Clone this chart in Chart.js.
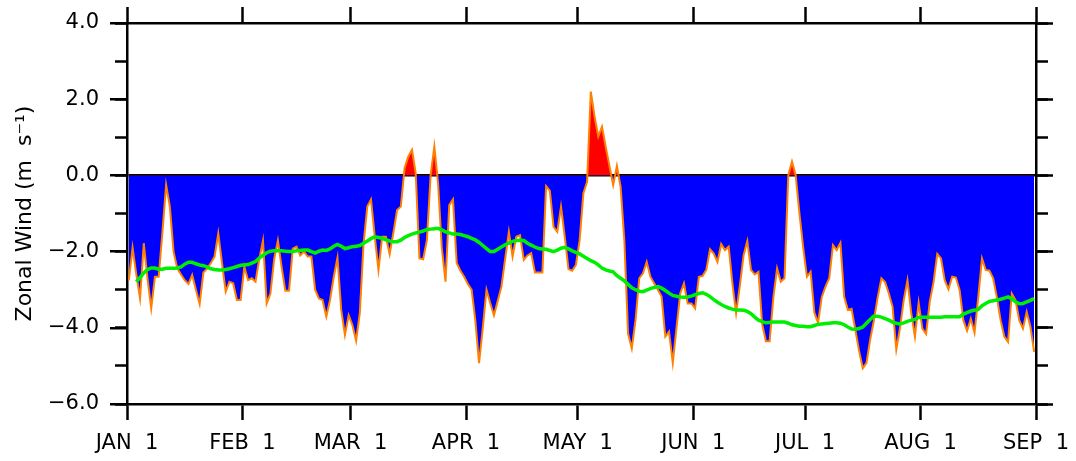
<!DOCTYPE html>
<html>
<head>
<meta charset="utf-8">
<script src="https://cdn.jsdelivr.net/npm/chart.js@4.4.1/dist/chart.umd.min.js"></script>
<style>
  html, body { margin: 0; padding: 0; background: #ffffff; }
  #wrap { width: 1076px; height: 461px; }
</style>
</head>
<body>
<div id="wrap"><canvas id="c" width="1076" height="461"></canvas></div>
<script>
// ---- data ----
const monthTickDays = [0, 31, 60, 91, 121, 152, 182, 213, 244];
const monthTickLabels = ['JAN  1', 'FEB  1', 'MAR  1', 'APR  1', 'MAY  1', 'JUN  1', 'JUL  1', 'AUG  1', 'SEP  1'];
const yMin = -6;
const yMax = 4;
const yTitle = 'Zonal Wind (m  s\u207B\u00B9)';

// daily zonal wind (m/s), Jan 1 .. Aug 31
const zonalWind = [
  -2.75, -1.9, -2.6, -3.23, -1.78, -2.7, -3.49, -2.66, -2.66, -1.5,
  -0.25, -0.82, -2.0, -2.44, -2.6, -2.75, -2.85, -2.61, -3.0, -3.38,
  -2.55, -2.45, -2.3, -2.13, -1.52, -2.3, -3.05, -2.79, -2.83, -3.27,
  -3.27, -2.4, -2.75, -2.7, -2.79, -2.2, -1.71, -3.36, -3.1, -2.2,
  -1.71, -2.4, -3.03, -3.03, -1.92, -1.87, -2.1, -2.0, -2.13, -2.13,
  -3.0, -3.23, -3.27, -3.71, -3.27, -2.66, -2.16, -3.53, -4.19, -3.67,
  -3.93, -4.34, -3.6, -1.79, -0.82, -0.63, -1.6, -2.48, -1.61, -1.61,
  -2.07, -1.5, -0.91, -0.82, 0.19, 0.49, 0.67, 0.05, -2.18, -2.2,
  -1.7, 0.0, 0.76, -0.2, -1.9, -2.79, -0.78, -0.63, -2.3, -2.5,
  -2.66, -2.85, -3.0, -3.8, -4.93, -4.0, -3.0, -3.35, -3.67, -3.3,
  -2.92, -2.2, -1.48, -2.13, -1.61, -1.57, -2.22, -2.1, -2.04, -2.55,
  -2.55, -2.55, -0.28, -0.4, -1.35, -1.48, -0.82, -1.6, -2.46, -2.5,
  -2.35, -1.7, -0.47, -0.17, 2.2, 1.55, 1.02, 1.28, 0.75, 0.25,
  -0.25, 0.25, -0.3, -1.7, -4.15, -4.54, -3.8, -2.7, -2.57, -2.27,
  -2.66, -2.83, -3.0, -3.18, -4.23, -4.1, -4.92, -4.0, -3.1, -2.83,
  -3.36, -3.36, -3.49, -2.66, -2.64, -2.48, -1.94, -2.05, -2.27, -1.8,
  -1.96, -1.87, -2.83, -3.62, -2.9, -2.1, -1.72, -2.48, -2.6, -2.53,
  -3.9, -4.35, -4.35, -3.2, -2.44, -2.79, -2.7, 0.0, 0.36, 0.0,
  -1.0, -1.88, -2.66, -2.53, -3.6, -3.87, -3.19, -2.92, -2.7, -1.83,
  -1.96, -1.77, -3.18, -3.53, -3.5, -4.05, -4.6, -5.06, -4.92, -4.3,
  -3.8, -3.2, -2.7, -2.8, -3.1, -3.45, -4.57, -4.0, -3.27, -2.75,
  -3.6, -4.23, -3.34, -4.02, -4.16, -3.3, -2.8, -2.06, -2.18, -2.75,
  -2.99, -2.66, -2.68, -3.01, -3.8, -4.08, -3.76, -4.13, -3.2, -2.18,
  -2.48, -2.5, -2.7, -3.2, -3.8, -4.23, -4.37, -3.1, -3.27, -3.8,
  -4.02, -3.58, -3.97, -4.63
];

// smoothed climatology (green line)
const climatology = [
  null, null, -2.79, -2.68, -2.56, -2.47, -2.43, -2.43, -2.46, -2.46,
  -2.44, -2.44, -2.44, -2.43, -2.4, -2.33, -2.28, -2.28, -2.32, -2.35,
  -2.37, -2.4, -2.45, -2.47, -2.48, -2.48, -2.47, -2.45, -2.42, -2.39,
  -2.36, -2.35, -2.34, -2.3, -2.26, -2.17, -2.1, -2.03, -1.99, -1.98,
  -1.98, -1.98, -1.99, -2.0, -2.0, -1.98, -1.97, -1.96, -1.96, -2.0,
  -2.04, -1.99, -1.96, -1.97, -1.93, -1.86, -1.81, -1.86, -1.92, -1.9,
  -1.87, -1.86, -1.84, -1.78, -1.72, -1.66, -1.61, -1.63, -1.65, -1.69,
  -1.72, -1.74, -1.74, -1.7, -1.63, -1.58, -1.54, -1.51, -1.49, -1.46,
  -1.42, -1.41, -1.4, -1.39, -1.43, -1.48, -1.51, -1.54, -1.54, -1.55,
  -1.58, -1.61, -1.65, -1.69, -1.76, -1.84, -1.92, -2.0, -2.0, -1.94,
  -1.88, -1.82, -1.78, -1.73, -1.71, -1.7, -1.71, -1.78, -1.83, -1.88,
  -1.92, -1.93, -1.94, -1.97, -2.0, -1.96, -1.91, -1.89, -1.93, -1.98,
  -2.02, -2.06, -2.12, -2.18, -2.24, -2.28, -2.35, -2.43, -2.48, -2.51,
  -2.53, -2.63, -2.7, -2.77, -2.86, -2.95, -3.0, -3.04, -3.05, -3.01,
  -2.97, -2.94, -2.92, -2.96, -3.02, -3.09, -3.15, -3.17, -3.19, -3.2,
  -3.19, -3.17, -3.13, -3.1, -3.08, -3.12, -3.18, -3.26, -3.33, -3.39,
  -3.44, -3.48, -3.51, -3.53, -3.53, -3.54, -3.57, -3.63, -3.72, -3.8,
  -3.84, -3.87, -3.86, -3.85, -3.85, -3.85, -3.85, -3.88, -3.92, -3.94,
  -3.96, -3.96, -3.97, -3.97, -3.94, -3.91, -3.9, -3.89, -3.88, -3.87,
  -3.87, -3.88, -3.92, -3.98, -4.03, -4.04, -4.02, -3.98, -3.88, -3.78,
  -3.69, -3.7, -3.72, -3.76, -3.8, -3.85, -3.88, -3.9, -3.87, -3.83,
  -3.8, -3.78, -3.73, -3.72, -3.72, -3.72, -3.72, -3.72, -3.72, -3.71,
  -3.71, -3.71, -3.71, -3.71, -3.64, -3.6, -3.56, -3.54, -3.52, -3.42,
  -3.36, -3.31, -3.29, -3.27, -3.25, -3.22, -3.19, -3.24, -3.32, -3.37,
  -3.36, -3.32, -3.28, -3.23
];

// ---- chart ----
const FONT = 'DejaVu Sans';
const LW = 2.5;
const toPoints = arr => arr.map((v, i) => ({ x: i + 0.5, y: v }));
const fmtY = v => (v < 0 ? '\u2212' : '') + Math.abs(v).toFixed(1);
const setMonthTicks = s => { s.ticks = monthTickDays.map(v => ({ value: v })); };

function fixWidth(w) { return s => { s.width = w; s.paddingTop = 0; s.paddingBottom = 0; }; }
function fixHeight(h) { return s => { s.height = h; s.paddingLeft = 0; s.paddingRight = 0; }; }

new Chart(document.getElementById('c'), {
  type: 'line',
  data: {
    datasets: [
      {
        label: 'climatology',
        data: toPoints(climatology),
        borderColor: '#00ee00',
        borderWidth: 3.5,
        pointRadius: 0,
        fill: false,
        tension: 0,
        spanGaps: false,
        order: 0
      },
      {
        label: 'zonal wind',
        data: toPoints(zonalWind),
        borderColor: '#ff8000',
        borderWidth: 2,
        pointRadius: 0,
        tension: 0,
        fill: { target: { value: 0 }, above: '#ff0000', below: '#0000ff' },
        order: 1
      }
    ]
  },
  options: {
    responsive: false,
    devicePixelRatio: 1,
    animation: false,
    events: [],
    layout: { padding: 0 },
    plugins: { legend: { display: false }, tooltip: { enabled: false } },
    font: { family: FONT },
    scales: {
      x: {
        type: 'linear', position: 'bottom', min: 0, max: 244,
        afterBuildTicks: setMonthTicks,
        afterFit: fixHeight(57),
        ticks: {
          autoSkip: false, maxRotation: 0, minRotation: 0, padding: 11,
          color: '#000', font: { family: FONT, size: 21 },
          callback: (v, i) => monthTickLabels[i]
        },
        grid: { drawOnChartArea: false, drawTicks: true, tickLength: 16, tickWidth: LW, tickColor: '#000' },
        border: { display: true, color: '#000', width: LW }
      },
      xTop: {
        type: 'linear', position: 'top', min: 0, max: 244,
        afterBuildTicks: setMonthTicks,
        afterFit: fixHeight(23),
        ticks: { display: false },
        grid: { drawOnChartArea: false, drawTicks: true, tickLength: 16, tickWidth: LW, tickColor: '#000' },
        border: { display: true, color: '#000', width: LW }
      },
      y: {
        type: 'linear', position: 'left', min: yMin, max: yMax, weight: 1, z: 1,
        afterFit: fixWidth(127),
        ticks: {
          stepSize: 2, padding: 11, color: '#000',
          font: { family: FONT, size: 21 },
          callback: v => fmtY(v)
        },
        grid: {
          drawOnChartArea: true, drawTicks: true, tickLength: 17, tickWidth: LW, tickColor: '#000',
          color: ctx => (ctx.tick && ctx.tick.value === 0) ? '#000000' : 'rgba(0,0,0,0)',
          lineWidth: LW
        },
        border: { display: true, color: '#000', width: LW },
        title: {
          display: true, text: yTitle, color: '#000',
          font: { family: FONT, size: 22 },
          padding: { top: 12, bottom: 0 }
        }
      },
      yMinorL: {
        type: 'linear', position: 'left', min: yMin, max: yMax, weight: 0,
        afterFit: fixWidth(0),
        ticks: { display: false, stepSize: 1 },
        grid: { drawOnChartArea: false, drawTicks: true, tickLength: 12, tickWidth: LW, tickColor: '#000' },
        border: { display: false }
      },
      yR: {
        type: 'linear', position: 'right', min: yMin, max: yMax, weight: 1,
        afterFit: fixWidth(40),
        ticks: { display: false, stepSize: 2 },
        grid: { drawOnChartArea: false, drawTicks: true, tickLength: 17, tickWidth: LW, tickColor: '#000' },
        border: { display: true, color: '#000', width: LW }
      },
      yMinorR: {
        type: 'linear', position: 'right', min: yMin, max: yMax, weight: 0,
        afterFit: fixWidth(0),
        ticks: { display: false, stepSize: 1 },
        grid: { drawOnChartArea: false, drawTicks: true, tickLength: 12, tickWidth: LW, tickColor: '#000' },
        border: { display: false }
      }
    }
  }
});
</script>
</body>
</html>
